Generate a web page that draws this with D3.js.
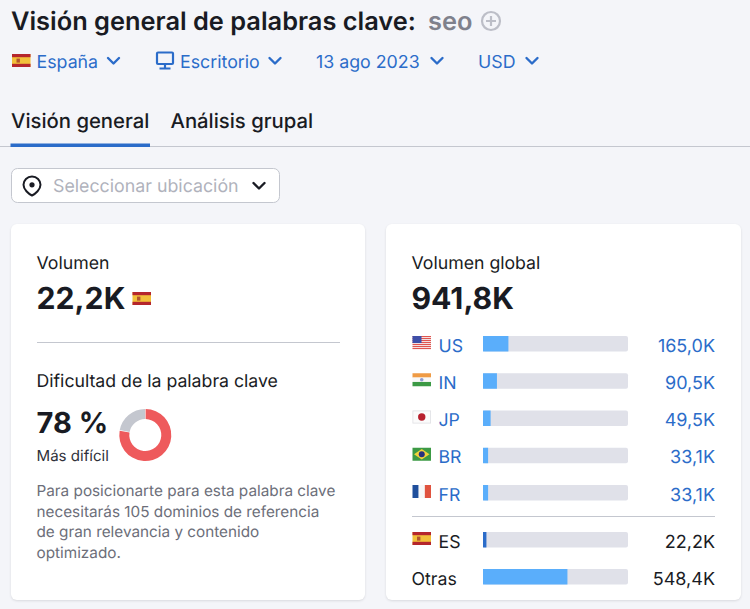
<!DOCTYPE html>
<html>
<head>
<meta charset="utf-8">
<script src="https://cdnjs.cloudflare.com/ajax/libs/d3/7.8.5/d3.min.js"></script>
<style>
    html, body { margin: 0; padding: 0; background: #f4f5f9; overflow: hidden; }
    text { font-family: Inter, "Noto Sans", sans-serif; text-rendering: geometricPrecision; }
</style>
</head>
<body>
<div id="chart"></div>
<script>
// values (thousands)
const topCountries = ["US", "IN", "JP", "BR", "FR"];
const topVolumes = [165.0, 90.5, 49.5, 33.1, 33.1];
const topLabels = ["165,0K", "90,5K", "49,5K", "33,1K", "33,1K"];
const otherCountries = ["ES", "Otras"];
const otherVolumes = [22.2, 548.4];
const otherLabels = ["22,2K", "548,4K"];
const globalVolume = 941.8;
const difficulty = [78, 22];
const descriptionLines = [
    "Para posicionarte para esta palabra clave",
    "necesitarás 105 dominios de referencia",
    "de gran relevancia y contenido",
    "optimizado."
];

const dark = "#191b23", blue = "#2b6cc9", lightBlue = "#5aaefb", track = "#e0e1e9", grey = "#6c6e79", line = "#c4c7cf";

const svg = d3.select("#chart").append("svg")
    .attr("width", 750)
    .attr("height", 609)
    .style("display", "block");

function label(x, y, str, size, fill, weight, anchor) {
    return svg.append("text")
        .attr("x", x).attr("y", y)
        .attr("font-size", size)
        .attr("fill", fill)
        .attr("font-weight", weight || 400)
        .attr("text-anchor", anchor || "start")
        .text(str);
}

function chevron(x, y, color, w) {
    svg.append("path")
        .attr("d", `M${x - 5.5},${y - 3} L${x},${y + 2.5} L${x + 5.5},${y - 3}`)
        .attr("fill", "none")
        .attr("stroke", color)
        .attr("stroke-width", w || 2.4)
        .attr("stroke-linecap", "round")
        .attr("stroke-linejoin", "round");
}

// small flags, x/y is the top left corner
function flag(code, x, y) {
    let g = svg.append("g").attr("transform", `translate(${x},${y})`);
    let w = 18.5, h = 13;
    let stripe = (yy, hh, c) => g.append("rect").attr("x", 0).attr("y", yy).attr("width", w).attr("height", hh).attr("fill", c);
    if (code === "ES") {
        stripe(0, h, "#f2c03a");
        stripe(0, 3.2, "#b5262c");
        stripe(h - 3.2, 3.2, "#b5262c");
        g.append("rect").attr("x", 4.5).attr("y", 4.6).attr("width", 3.4).attr("height", 4).attr("fill", "#b3552d");
    } else if (code === "US") {
        stripe(0, h, "#f6f0f0");
        d3.range(0, 7).forEach(i => stripe(i * 2, 1.1, "#e0554f"));
        g.append("rect").attr("width", 9).attr("height", 7).attr("fill", "#3e4fa8");
    } else if (code === "IN") {
        stripe(0, 4.3, "#ef9b45");
        stripe(4.3, 4.4, "#f8f8f8");
        stripe(8.7, 4.3, "#3c9a45");
        g.append("circle").attr("cx", w / 2).attr("cy", h / 2).attr("r", 1.8).attr("fill", "#8d9bd0");
    } else if (code === "JP") {
        g.append("rect").attr("x", 0.4).attr("y", 0.4).attr("width", w - 0.8).attr("height", h - 0.8)
            .attr("fill", "#fbfbfb").attr("stroke", "#dfe0e4").attr("stroke-width", 0.8);
        g.append("circle").attr("cx", w / 2).attr("cy", h / 2).attr("r", 3.7).attr("fill", "#b7202e");
    } else if (code === "BR") {
        stripe(0, h, "#3c9a45");
        g.append("path").attr("d", `M${w / 2},1.3 L${w - 1.5},${h / 2} L${w / 2},${h - 1.3} L1.5,${h / 2} Z`).attr("fill", "#f2d13c");
        g.append("circle").attr("cx", w / 2).attr("cy", h / 2).attr("r", 3).attr("fill", "#27307f");
    } else if (code === "FR") {
        g.append("rect").attr("width", w / 3).attr("height", h).attr("fill", "#1f4f9c");
        g.append("rect").attr("x", w / 3).attr("width", w / 3).attr("height", h).attr("fill", "#f8f8f8");
        g.append("rect").attr("x", 2 * w / 3).attr("width", w / 3).attr("height", h).attr("fill", "#e0533f");
    }
}

// header
label(11, 30, "Visión general de palabras clave:", 25.4, dark, 600);
label(428, 30, "seo", 25.4, "#7f818c", 600);
svg.append("circle").attr("cx", 491).attr("cy", 21).attr("r", 9).attr("fill", "none").attr("stroke", "#bcbec7").attr("stroke-width", 2.2);
svg.append("path").attr("d", "M491,16 V26 M486,21 H496").attr("stroke", "#bcbec7").attr("stroke-width", 2.2);

flag("ES", 12, 54);
label(36.5, 67.5, "España", 17.8, blue);
chevron(113.5, 61, blue);
// monitor icon
svg.append("rect").attr("x", 157).attr("y", 52.5).attr("width", 16).attr("height", 11.5).attr("rx", 1).attr("fill", "none").attr("stroke", blue).attr("stroke-width", 2.2);
svg.append("path").attr("d", "M165,64 V68 M159.5,68.5 H170.5").attr("stroke", blue).attr("stroke-width", 2.2);
label(180, 67.5, "Escritorio", 17.8, blue);
chevron(275, 61, blue);
label(316, 67.5, "13 ago 2023", 17.8, blue);
chevron(437, 61, blue);
label(478, 67.5, "USD", 17.8, blue);
chevron(532, 61, blue);

// tabs
label(11, 128, "Visión general", 20.3, dark, 500);
label(170.5, 128, "Análisis grupal", 20.3, dark, 500);
svg.append("rect").attr("x", 0).attr("y", 146).attr("width", 750).attr("height", 1).attr("fill", line);
svg.append("rect").attr("x", 10.5).attr("y", 143.5).attr("width", 139.5).attr("height", 3.5).attr("fill", blue);

// location select
svg.append("rect").attr("x", 11.5).attr("y", 168.5).attr("width", 268).attr("height", 34).attr("rx", 6)
    .attr("fill", "#fff").attr("stroke", "#c4c7cf");
svg.append("path")
    .attr("d", "M32,176.5 C27.2,176.5 23.5,180.2 23.5,184.8 C23.5,189.5 28.5,193.8 32,195.5 C35.5,193.8 40.5,189.5 40.5,184.8 C40.5,180.2 36.8,176.5 32,176.5 Z")
    .attr("fill", "none").attr("stroke", dark).attr("stroke-width", 2);
svg.append("circle").attr("cx", 32).attr("cy", 184.8).attr("r", 2.6).attr("fill", dark);
label(53, 192, "Seleccionar ubicación", 17.8, "#b0b2bc");
chevron(259, 186, dark, 2.4);

// cards
[[11, 354], [386, 355]].forEach(c => {
    svg.append("rect").attr("x", c[0]).attr("y", 224).attr("width", c[1]).attr("height", 376).attr("rx", 6)
        .attr("fill", "#fff")
        .style("filter", "drop-shadow(0 1px 1px rgba(25,27,35,0.12))");
});

// left card
label(36.5, 268.5, "Volumen", 17.7, dark);
label(36.5, 308.5, "22,2K", 30.2, dark, 700);
flag("ES", 132.5, 292);
svg.append("rect").attr("x", 37).attr("y", 342).attr("width", 303).attr("height", 1).attr("fill", line);
label(36.5, 387, "Dificultad de la palabra clave", 17.7, dark);
label(36.5, 432.5, "78 %", 29, dark, 700);
label(36.5, 461, "Más difícil", 15.1, "#2e3039");

const pie = d3.pie().sort(null).padAngle(0.02);
const arc = d3.arc().innerRadius(16).outerRadius(26);
const donutColors = d3.scaleOrdinal().domain([0, 1]).range(["#ee5a5c", "#c4c7cf"]);
svg.append("g").attr("transform", "translate(145.3,435)")
    .selectAll("path")
    .data(pie(difficulty))
    .join("path")
    .attr("d", arc)
    .attr("fill", (d, i) => donutColors(i));

svg.append("g").selectAll("text")
    .data(descriptionLines)
    .join("text")
    .attr("x", 36.5)
    .attr("y", (d, i) => 496 + i * 20.5)
    .attr("font-size", 15.3)
    .attr("fill", grey)
    .text(d => d);

// right card
label(411.5, 268.5, "Volumen global", 17.7, dark);
label(411.5, 308.5, "941,8K", 30.2, dark, 700);

const x = d3.scaleLinear().domain([0, globalVolume]).range([483, 628]);
const yTop = d3.scalePoint().domain(topCountries).range([336, 485]);
const yOther = d3.scalePoint().domain(otherCountries).range([532, 569]);
const barH = 15.5;

function drawRows(names, values, labels, y, barColor, textColor) {
    names.forEach((name, i) => {
        let top = y(name);
        svg.append("rect").attr("x", x(0)).attr("y", top).attr("width", x(globalVolume) - x(0)).attr("height", barH).attr("rx", 2).attr("fill", track);
        svg.append("rect").attr("x", x(0)).attr("y", top).attr("width", x(values[i]) - x(0)).attr("height", barH).attr("fill", barColor[i]);
        if (name !== "Otras") {
            flag(name, 412.5, top);
            label(438.5, top + 15.5, name, 17.7, textColor);
        } else {
            label(411.5, top + 15.5, name, 17.7, dark);
        }
        label(715, top + 15.5, labels[i], 18, textColor, 400, "end");
    });
}

drawRows(topCountries, topVolumes, topLabels, yTop, topCountries.map(() => lightBlue), blue);
svg.append("rect").attr("x", 412).attr("y", 516).attr("width", 303).attr("height", 1).attr("fill", line);
drawRows(otherCountries, otherVolumes, otherLabels, yOther, [blue, lightBlue], dark);
</script>
</body>
</html>
